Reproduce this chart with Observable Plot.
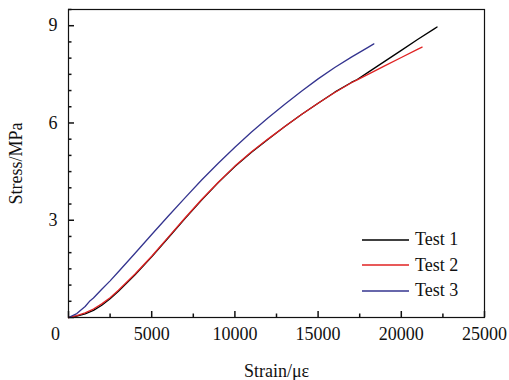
<!DOCTYPE html>
<html>
<head>
<meta charset="utf-8">
<script src="https://cdn.jsdelivr.net/npm/d3@7"></script>
<script src="https://cdn.jsdelivr.net/npm/@observablehq/plot@0.6"></script>
<style>
  html, body { margin: 0; padding: 0; background: #fff; }
  #wrap { position: relative; width: 509px; height: 380px; }
  #legend { position: absolute; left: 362px; top: 227px; font-family: "Liberation Serif", "Times New Roman", serif; font-size: 18px; color: #111; }
  #legend .row { display: flex; align-items: center; height: 25.5px; }
  #legend svg { margin-right: 6px; }
</style>
</head>
<body>
<div id="wrap">
  <div id="chart"></div>
  <div id="legend"></div>
</div>
<script>
// Stress–strain curves for three specimens
const seriesNames = ["Test 1", "Test 2", "Test 3"];
const seriesColors = ["#000000", "#e02222", "#34348f"];

const strain1 = [0, 500, 1000, 1500, 2000, 2500, 3000, 4000, 5000, 6000, 7000, 8000, 9000, 10000, 11000, 12000, 13000, 14000, 15000, 16000, 17000, 17350, 18000, 19000, 20000, 21000, 22000, 22150];
const stress1 = [0, 0.04, 0.11, 0.22, 0.38, 0.58, 0.81, 1.32, 1.87, 2.46, 3.05, 3.62, 4.16, 4.66, 5.10, 5.50, 5.89, 6.26, 6.61, 6.95, 7.25, 7.34, 7.56, 7.90, 8.24, 8.58, 8.91, 8.96];

const strain2 = [0, 500, 1000, 1500, 2000, 2500, 3000, 4000, 5000, 6000, 7000, 8000, 9000, 10000, 11000, 12000, 13000, 14000, 15000, 16000, 17000, 17350, 18000, 19000, 20000, 21000, 21250];
const stress2 = [0, 0.06, 0.14, 0.26, 0.42, 0.61, 0.84, 1.34, 1.89, 2.48, 3.07, 3.64, 4.17, 4.67, 5.11, 5.51, 5.89, 6.26, 6.61, 6.94, 7.24, 7.33, 7.50, 7.76, 8.02, 8.28, 8.34];

const strain3 = [0, 500, 1000, 1300, 1500, 2000, 2500, 3000, 4000, 5000, 6000, 7000, 8000, 9000, 10000, 11000, 12000, 13000, 14000, 15000, 16000, 17000, 18000, 18350];
const stress3 = [0, 0.12, 0.34, 0.52, 0.60, 0.87, 1.13, 1.41, 1.98, 2.56, 3.13, 3.69, 4.24, 4.76, 5.25, 5.72, 6.16, 6.58, 6.98, 7.36, 7.71, 8.03, 8.33, 8.44];

const xMajorTicks = [0, 5000, 10000, 15000, 20000, 25000];
const xMinorTicks = [2500, 7500, 12500, 17500, 22500];
const yMajorTicks = [0, 3, 6, 9];
const yMinorTicks = [0.5, 1, 1.5, 2, 2.5, 3.5, 4, 4.5, 5, 5.5, 6.5, 7, 7.5, 8, 8.5, 9.5];

const rows = [
  ...strain1.map((x, i) => ({series: seriesNames[0], strain: x, stress: stress1[i]})),
  ...strain2.map((x, i) => ({series: seriesNames[1], strain: x, stress: stress2[i]})),
  ...strain3.map((x, i) => ({series: seriesNames[2], strain: x, stress: stress3[i]}))
];

const font = '"Liberation Serif", "Times New Roman", serif';

// frame geometry
const W = 509, H = 380;
const mL = 68, mR = 25, mT = 9, mB = 63;
const xDomain = [0, 25000], yDomain = [0, 9.5];
// inward tick lengths (pixels) expressed in data units
const perPxX = (xDomain[1] - xDomain[0]) / (W - mL - mR);
const perPxY = (yDomain[1] - yDomain[0]) / (H - mT - mB);
const majorLen = 6, minorLen = 3.5;
const tickStyle = {stroke: "#111", strokeWidth: 1.5};

const chart = Plot.plot({
  width: W,
  height: H,
  marginLeft: mL,
  marginRight: mR,
  marginTop: mT,
  marginBottom: mB,
  style: {fontFamily: font, fontSize: "18px", color: "#111", background: "#fff"},
  x: {domain: xDomain},
  y: {domain: yDomain},
  color: {domain: seriesNames, range: seriesColors},
  marks: [
    Plot.axisX({
      ticks: xMajorTicks, tickSize: 0, tickPadding: 10,
      tickFormat: d => d === 0 ? "" : d3.format("d")(d),
      label: "Strain/με", labelAnchor: "center", labelArrow: "none", labelOffset: 59
    }),
    Plot.axisY({
      ticks: yMajorTicks, tickSize: 0, tickPadding: 11,
      tickFormat: d => d === 0 ? "" : d,
      label: "Stress/MPa", labelAnchor: "center", labelArrow: "none", labelOffset: 59
    }),
    // corner zero shared by both axes
    Plot.text([0], {x: d => d, y: d => d, text: d => String(d), dx: -13, dy: 17, fontSize: 18}),
    // inward ticks
    Plot.ruleX(xMajorTicks, {x: d => d, y1: 0, y2: majorLen * perPxY, ...tickStyle}),
    Plot.ruleX(xMinorTicks, {x: d => d, y1: 0, y2: minorLen * perPxY, ...tickStyle}),
    Plot.ruleY(yMajorTicks, {y: d => d, x1: 0, x2: majorLen * perPxX, ...tickStyle}),
    Plot.ruleY(yMinorTicks, {y: d => d, x1: 0, x2: minorLen * perPxX, ...tickStyle}),
    Plot.line(rows, {x: "strain", y: "stress", z: "series", stroke: "series", strokeWidth: 1.3}),
    Plot.frame({stroke: "#111", strokeWidth: 1.2})
  ]
});
document.getElementById("chart").append(chart);

// legend
const legend = d3.select("#legend");
seriesNames.forEach((name, i) => {
  const row = legend.append("div").attr("class", "row");
  const svg = row.append("svg").attr("width", 47).attr("height", 4);
  svg.append("line").attr("x1", 0).attr("x2", 47).attr("y1", 2).attr("y2", 2)
    .attr("stroke", seriesColors[i]).attr("stroke-width", 1.3);
  row.append("span").text(name);
});
</script>
</body>
</html>
